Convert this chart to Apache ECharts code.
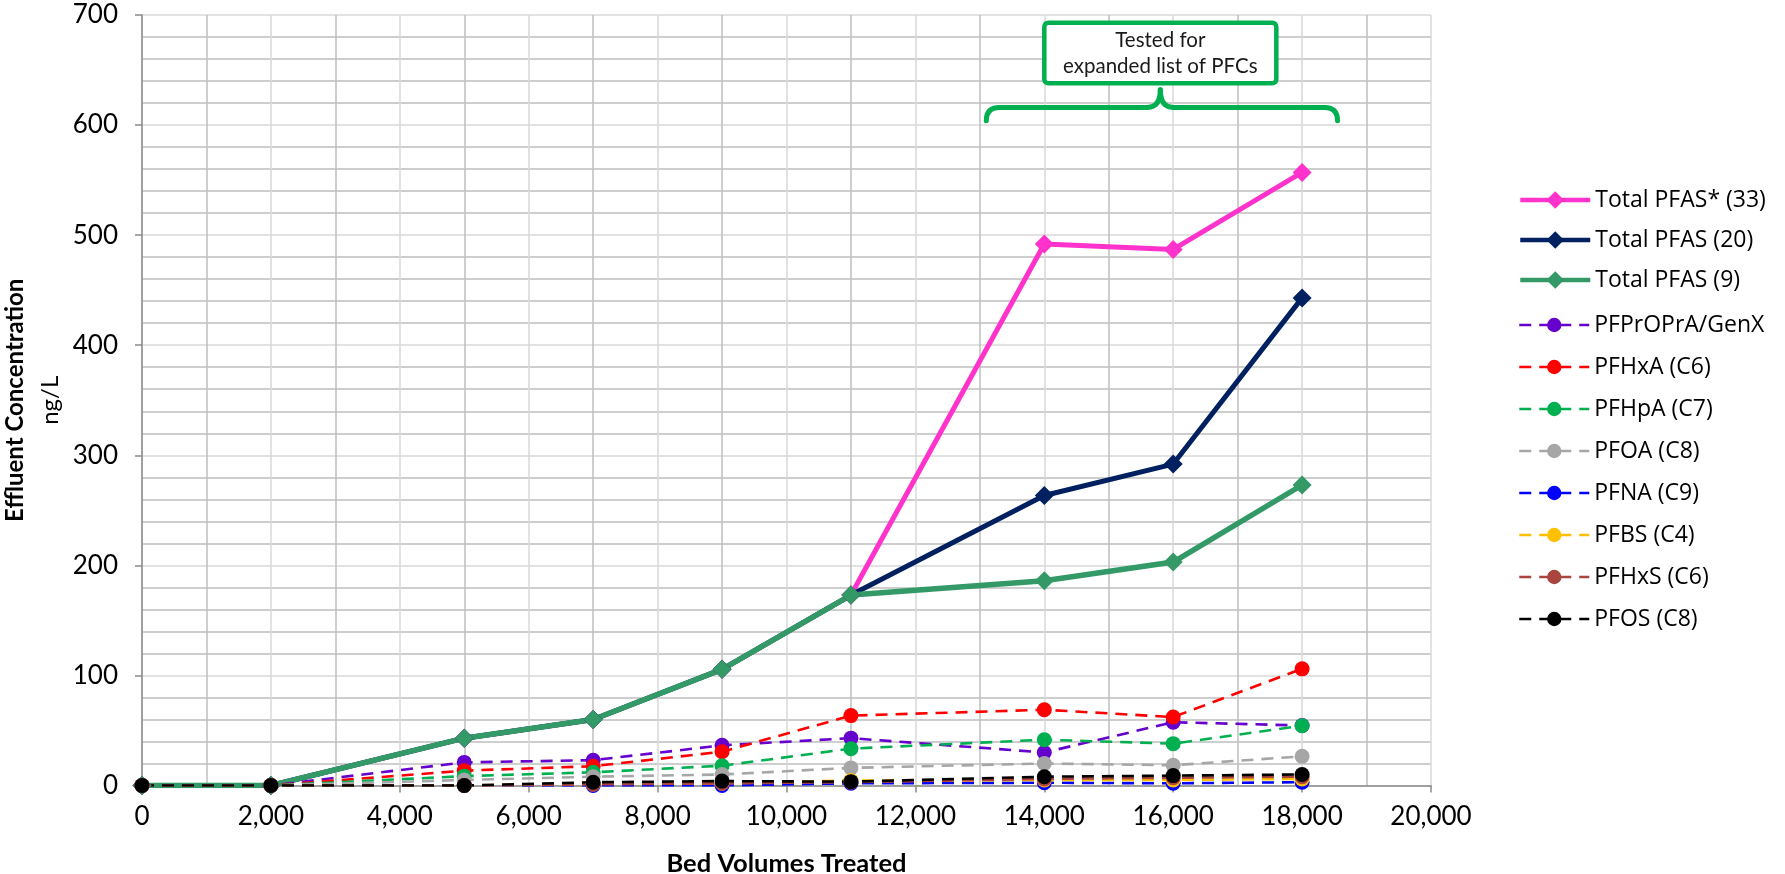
<!DOCTYPE html>
<html>
<head>
<meta charset="utf-8">
<script src="https://cdn.jsdelivr.net/npm/echarts@6/dist/echarts.min.js"></script>
<style>
  html, body { margin: 0; padding: 0; background: #ffffff; }
  #chart { width: 1785px; height: 874px; }
</style>
</head>
<body>
<div id="chart"></div>
<script>
// Bed volumes treated at each sampling event
const bedVolumes = [0, 2000, 5000, 7000, 9000, 11000, 14000, 16000, 18000];

// Effluent concentrations, ng/L
const totalPfas33 = [0, 0, 43, 60, 105.5, 173, 492, 487, 557];
const totalPfas20 = [0, 0, 43, 60, 105.5, 173, 263.5, 292, 443];
const totalPfas9  = [0, 0, 43, 60, 105.5, 173, 186, 203, 273];
const genX  = [0, 0, 21, 23, 36.5, 43, 30, 57.5, 54.5];
const pfhxa = [0, 0, 13.5, 17.5, 30.7, 63.5, 68.8, 62.2, 106];
const pfhpa = [0, 0, 8.5, 12, 18, 33.5, 41.6, 38, 54.3];
const pfoa  = [0, 0, 5, 8, 10, 16, 20, 18.4, 26.5];
const pfna  = [0, 0, 0, 0, 0, 2, 2.5, 2, 3];
const pfbs  = [0, 0, 0, 1.5, 2, 4.5, 5, 5, 6];
const pfhxs = [0, 0, 0, 1, 2, 3, 6, 7, 8];
const pfos  = [0, 0, 0, 3, 4, 3.5, 8, 9, 10];

const totalNames = ['Total PFAS* (33)', 'Total PFAS (20)', 'Total PFAS (9)'];
const totalValues = [totalPfas33, totalPfas20, totalPfas9];
const totalColors = ['#ff33cc', '#002060', '#339966'];

const compoundNames = ['PFPrOPrA/GenX', 'PFHxA (C6)', 'PFHpA (C7)', 'PFOA (C8)',
  'PFNA (C9)', 'PFBS (C4)', 'PFHxS (C6)', 'PFOS (C8)'];
const compoundValues = [genX, pfhxa, pfhpa, pfoa, pfna, pfbs, pfhxs, pfos];
const compoundColors = ['#6600cc', '#ff0000', '#00b050', '#a6a6a6',
  '#0000ff', '#ffc000', '#a9443f', '#000000'];

// Annotation extents in data space (bed volumes, ng/L)
const noteBox = { x0: 14000, x1: 17600, y0: 638, y1: 693 };
const noteLines = ['Tested for', 'expanded list of PFCs'];
const brace = { x0: 13100, x1: 18550, xMid: 15800, yEnd: 604, yBar: 616, yTip: 632 };

const FONT = 'Lato, "Open Sans", sans-serif';
const LEGEND_FONT = '"Open Sans", Lato, sans-serif';
const ANNOT_GREEN = '#00b050';

const pairs = (vals) => bedVolumes.map((x, i) => [x, vals[i]]);

const series = [];
totalNames.forEach((name, i) => {
  series.push({
    name, type: 'line', data: pairs(totalValues[i]),
    symbol: 'diamond', symbolSize: 19,
    itemStyle: { color: totalColors[i] },
    lineStyle: { color: totalColors[i], width: i === 2 ? 5.5 : 5 },
    animation: false
  });
});
compoundNames.forEach((name, i) => {
  series.push({
    name, type: 'line', data: pairs(compoundValues[i]),
    symbol: 'circle', symbolSize: 15,
    itemStyle: { color: compoundColors[i] },
    lineStyle: { color: compoundColors[i], width: 2.6, type: [12, 8] },
    animation: false
  });
});

const legendText = { fontFamily: LEGEND_FONT, fontSize: 23, lineHeight: 24, color: '#000' };

const chart = echarts.init(document.getElementById('chart'), null, { renderer: 'canvas' });

chart.setOption({
  backgroundColor: '#ffffff',
  animation: false,
  grid: {
    left: 142, right: 354, top: 15, bottom: 88.5,
    containLabel: false, outerBoundsMode: 'none'
  },
  xAxis: {
    type: 'value', min: 0, max: 20000, interval: 2000,
    name: 'Bed Volumes Treated', nameLocation: 'middle', nameGap: 65,
    nameTextStyle: { fontFamily: FONT, fontWeight: 'bold', fontSize: 25.5, color: '#000' },
    axisLine: { show: true, onZero: false, lineStyle: { color: '#8a8a8a', width: 1.5 } },
    axisTick: { show: true, inside: false, length: 7, lineStyle: { color: '#8a8a8a', width: 1.5 } },
    axisLabel: {
      margin: 18, fontFamily: FONT, fontSize: 26, color: '#000',
      formatter: (v) => String(v).replace(/\B(?=(\d{3})+(?!\d))/g, ',')
    },
    splitLine: { show: true, lineStyle: { color: '#d9d9d9', width: 1.5 } },
    minorTick: { show: false, splitNumber: 2 },
    minorSplitLine: { show: true, lineStyle: { color: '#bfbfbf', width: 1.5 } }
  },
  yAxis: {
    type: 'value', min: 0, max: 700, interval: 100,
    name: '{t|Effluent Concentration}\n{u|ng/L}',
    nameLocation: 'middle', nameRotate: 90, nameGap: 56,
    nameTextStyle: {
      align: 'center', color: '#000',
      rich: {
        t: { fontFamily: FONT, fontWeight: 'bold', fontSize: 24, lineHeight: 35, color: '#000' },
        u: { fontFamily: FONT, fontSize: 24, lineHeight: 35, color: '#000' }
      }
    },
    axisLine: { show: true, lineStyle: { color: '#8a8a8a', width: 1.5 } },
    axisTick: { show: true, inside: false, length: 7, lineStyle: { color: '#8a8a8a', width: 1.5 } },
    axisLabel: { margin: 24, fontFamily: FONT, fontSize: 26, color: '#000' },
    splitLine: { show: true, lineStyle: { color: '#d9d9d9', width: 1.5 } },
    minorTick: { show: false, splitNumber: 5 },
    minorSplitLine: { show: true, lineStyle: { color: '#bfbfbf', width: 1.5 } }
  },
  legend: [
    {
      data: totalNames, orient: 'vertical', left: 1513, top: 183,
      itemWidth: 70, itemHeight: 22, itemGap: 16,
      lineStyle: { width: 4.5 },
      textStyle: legendText, selectedMode: false
    },
    {
      data: compoundNames, orient: 'vertical', left: 1513, top: 308,
      itemWidth: 70, itemHeight: 18, itemGap: 18,
      lineStyle: { width: 2.5 },
      textStyle: legendText, selectedMode: false
    }
  ],
  series
});

// Callout box and curly brace over the extended-testing range
function drawAnnotation() {
  const px = (x, y) => chart.convertToPixel({ gridIndex: 0 }, [x, y]);
  const b0 = px(noteBox.x0, noteBox.y1);
  const b1 = px(noteBox.x1, noteBox.y0);
  const L = px(brace.x0, brace.yEnd);
  const R = px(brace.x1, brace.yEnd);
  const M = px(brace.xMid, brace.yTip);
  const bar = px(brace.xMid, brace.yBar)[1];
  const r = 13;
  const stroke = { stroke: ANNOT_GREEN, lineWidth: 5, fill: null, lineCap: 'round' };
  const curve = (x1, y1, cx, cy, x2, y2) => ({
    type: 'bezierCurve', z: 100,
    shape: { x1, y1, cpx1: cx, cpy1: cy, x2, y2 }, style: stroke
  });
  const seg = (x1, x2, y) => ({
    type: 'line', z: 100, shape: { x1, y1: y, x2, y2: y }, style: stroke
  });
  const cx = (b0[0] + b1[0]) / 2;
  const cy = (b0[1] + b1[1]) / 2;
  chart.setOption({
    graphic: [
      {
        type: 'rect', z: 100,
        shape: { x: b0[0], y: b0[1], width: b1[0] - b0[0], height: b1[1] - b0[1], r: 4 },
        style: { fill: '#ffffff', stroke: ANNOT_GREEN, lineWidth: 4.5 }
      },
      {
        type: 'text', z: 101, x: cx, y: cy,
        style: {
          text: noteLines.join('\n'), fontFamily: FONT, fontSize: 20.5, lineHeight: 26,
          fill: '#1a1a1a', align: 'center', verticalAlign: 'middle'
        }
      },
      curve(L[0], L[1], L[0], bar, L[0] + r, bar),
      seg(L[0] + r, M[0] - r, bar),
      curve(M[0] - r, bar, M[0], bar, M[0], M[1]),
      curve(M[0], M[1], M[0], bar, M[0] + r, bar),
      seg(M[0] + r, R[0] - r, bar),
      curve(R[0] - r, bar, R[0], bar, R[0], R[1])
    ]
  });
}
drawAnnotation();
</script>
</body>
</html>
